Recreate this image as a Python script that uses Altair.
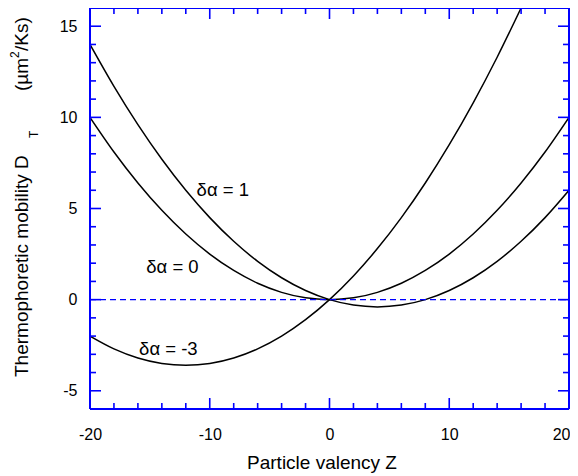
import altair as alt
import pandas as pd

# ---- data ----
z_vals = [-20, -18, -16, -14, -12, -10, -8, -6, -4, -2, 0, 2, 4, 6, 8, 10, 12, 14, 16, 18, 20]
d_alpha_1 = [14.0, 11.7, 9.6, 7.7, 6.0, 4.5, 3.2, 2.1, 1.2, 0.5, 0.0, -0.3, -0.4, -0.3, 0.0, 0.5, 1.2, 2.1, 3.2, 4.5, 6.0]
d_alpha_0 = [10.0, 8.1, 6.4, 4.9, 3.6, 2.5, 1.6, 0.9, 0.4, 0.1, 0.0, 0.1, 0.4, 0.9, 1.6, 2.5, 3.6, 4.9, 6.4, 8.1, 10.0]
z_vals_m3 = [-20, -18, -16, -14, -12, -10, -8, -6, -4, -2, 0, 2, 4, 6, 8, 10, 12, 14, 16]
d_alpha_m3 = [-2.0, -2.7, -3.2, -3.5, -3.6, -3.5, -3.2, -2.7, -2.0, -1.1, 0.0, 1.3, 2.8, 4.5, 6.4, 8.5, 10.8, 13.3, 16.0]

ann_text = ["δα = 1", "δα = 0", "δα = -3"]
ann_z = [-11.1, -15.3, -15.9]
ann_d = [6.0, 1.8, -2.7]

x_label_values = [-20, -10, 0, 10, 20]
y_label_values = [-5, 0, 5, 10, 15]
x_major_ticks = [-10, 0, 10]
x_minor_ticks = [-18, -16, -14, -12, -8, -6, -4, -2, 2, 4, 6, 8, 12, 14, 16, 18]
y_major_ticks = [-5, 0, 5, 10, 15]
y_minor_ticks = [-4, -3, -2, -1, 1, 2, 3, 4, 6, 7, 8, 9, 11, 12, 13, 14]
zero_level = [0]

x_title = "Particle valency Z"
y_title_main = "Thermophoretic mobility D"
y_title_sub = "T"
y_title_unit_a = "(µm"
y_title_sup = "2"
y_title_unit_b = "/Ks)"

# ---- styling ----
W, H = 479, 401
FONT = "Liberation Sans"
BLUE = "#0000ff"
MAJ, MIN = 11, 6
HYPHEN = "replace(datum.label, '\u2212', '-')"

xs = alt.Scale(domain=[-20, 20], nice=False, zero=False)
ys = alt.Scale(domain=[-6, 16], nice=False, zero=False)

rows = []
for z, d in zip(z_vals, d_alpha_1):
    rows.append({"z": z, "d": d, "s": ann_text[0]})
for z, d in zip(z_vals, d_alpha_0):
    rows.append({"z": z, "d": d, "s": ann_text[1]})
for z, d in zip(z_vals_m3, d_alpha_m3):
    rows.append({"z": z, "d": d, "s": ann_text[2]})
df = pd.DataFrame(rows)

x_axis = alt.Axis(values=x_label_values, title=None, ticks=False, tickSize=0, domain=False,
                  grid=False, labelFontSize=16, labelPadding=17, labelColor="black",
                  labelFont=FONT, labelFlush=False, labelOverlap=False, labelExpr=HYPHEN,
                  labelAlign=alt.condition("datum.value >= 20", alt.value("right"), alt.value("center")),
                  labelOffset=alt.condition("datum.value >= 20", alt.value(1), alt.value(0)))
y_axis = alt.Axis(values=y_label_values, title=None, ticks=False, tickSize=0, domain=False,
                  grid=False, labelFontSize=16, labelPadding=13, labelColor="black",
                  labelFont=FONT, labelFlush=False, labelOverlap=False, labelExpr=HYPHEN)


def X(field):
    return alt.X(field, scale=xs, axis=x_axis)


def Y(field):
    return alt.Y(field, scale=ys, axis=y_axis)


lines = alt.Chart(df).mark_line(color="black", strokeWidth=1.5, interpolate="monotone", clip=True).encode(
    x=X("z:Q"), y=Y("d:Q"), detail="s:N",
)

zero_line = alt.Chart(pd.DataFrame({"v": zero_level})).mark_rule(
    color=BLUE, strokeDash=[6, 4], strokeWidth=1.2
).encode(y=Y("v:Q"), x=alt.value(0), x2=alt.value(W))


def yticks(vals, length):
    d = pd.DataFrame({"v": vals})
    left = alt.Chart(d).mark_rule(color=BLUE, strokeWidth=1.6).encode(
        y=Y("v:Q"), x=alt.value(0), x2=alt.value(length))
    right = alt.Chart(d).mark_rule(color=BLUE, strokeWidth=1.6).encode(
        y=Y("v:Q"), x=alt.value(W), x2=alt.value(W - length))
    return [left, right]


def xticks(vals, length):
    d = pd.DataFrame({"v": vals})
    bottom = alt.Chart(d).mark_rule(color=BLUE, strokeWidth=1.6).encode(
        x=X("v:Q"), y=alt.value(H), y2=alt.value(H - length))
    top = alt.Chart(d).mark_rule(color=BLUE, strokeWidth=1.6).encode(
        x=X("v:Q"), y=alt.value(0), y2=alt.value(length))
    return [bottom, top]


ticks = yticks(y_major_ticks, MAJ) + yticks(y_minor_ticks, MIN) + xticks(x_major_ticks, MAJ) + xticks(x_minor_ticks, MIN)

frame_df = pd.DataFrame({"k": [0]})
frame = [
    alt.Chart(frame_df).mark_rule(color=BLUE, strokeWidth=2).encode(x=alt.value(0), x2=alt.value(W), y=alt.value(0)),
    alt.Chart(frame_df).mark_rule(color=BLUE, strokeWidth=2).encode(x=alt.value(0), x2=alt.value(W), y=alt.value(H)),
    alt.Chart(frame_df).mark_rule(color=BLUE, strokeWidth=2).encode(y=alt.value(0), y2=alt.value(H), x=alt.value(0)),
    alt.Chart(frame_df).mark_rule(color=BLUE, strokeWidth=2).encode(y=alt.value(0), y2=alt.value(H), x=alt.value(W)),
]

ann = alt.Chart(pd.DataFrame({"t": ann_text, "z": ann_z, "d": ann_d})).mark_text(
    align="left", baseline="middle", fontSize=18.5, font=FONT, color="black"
).encode(x=X("z:Q"), y=Y("d:Q"), text="t:N")


def label(text, x, y, size, angle=None, align="left", dy=0, color="black"):
    kw = dict(align=align, baseline="alphabetic", fontSize=size, font=FONT, color=color)
    if angle is not None:
        kw["angle"] = angle
    if dy:
        kw["dy"] = dy
    return alt.Chart(pd.DataFrame({"t": [text]})).mark_text(**kw).encode(
        text="t:N", x=alt.value(x), y=alt.value(y))


titles = [
    label(x_title, 232, 461, 19, align="center"),
    label(y_title_main, -62.5, 369, 19, angle=270),
    label(y_title_sub, -62.5, 130, 12, angle=270, dy=10),
    label(y_title_unit_a, -62.5, 83, 19, angle=270),
    label(y_title_sup, -62.5, 50, 12, angle=270, dy=-9),
    label(y_title_unit_b, -62.5, 43, 19, angle=270),
]

chart = alt.layer(lines, zero_line, *ticks, *frame, ann, *titles).properties(
    width=W, height=H,
    autosize=alt.AutoSizeParams(type="none"),
    padding={"left": 82, "top": 0, "right": 1, "bottom": 64},
).configure_view(strokeWidth=0).configure(font=FONT)

chart.save("out.html", embed_options={"renderer": "svg", "actions": False})
